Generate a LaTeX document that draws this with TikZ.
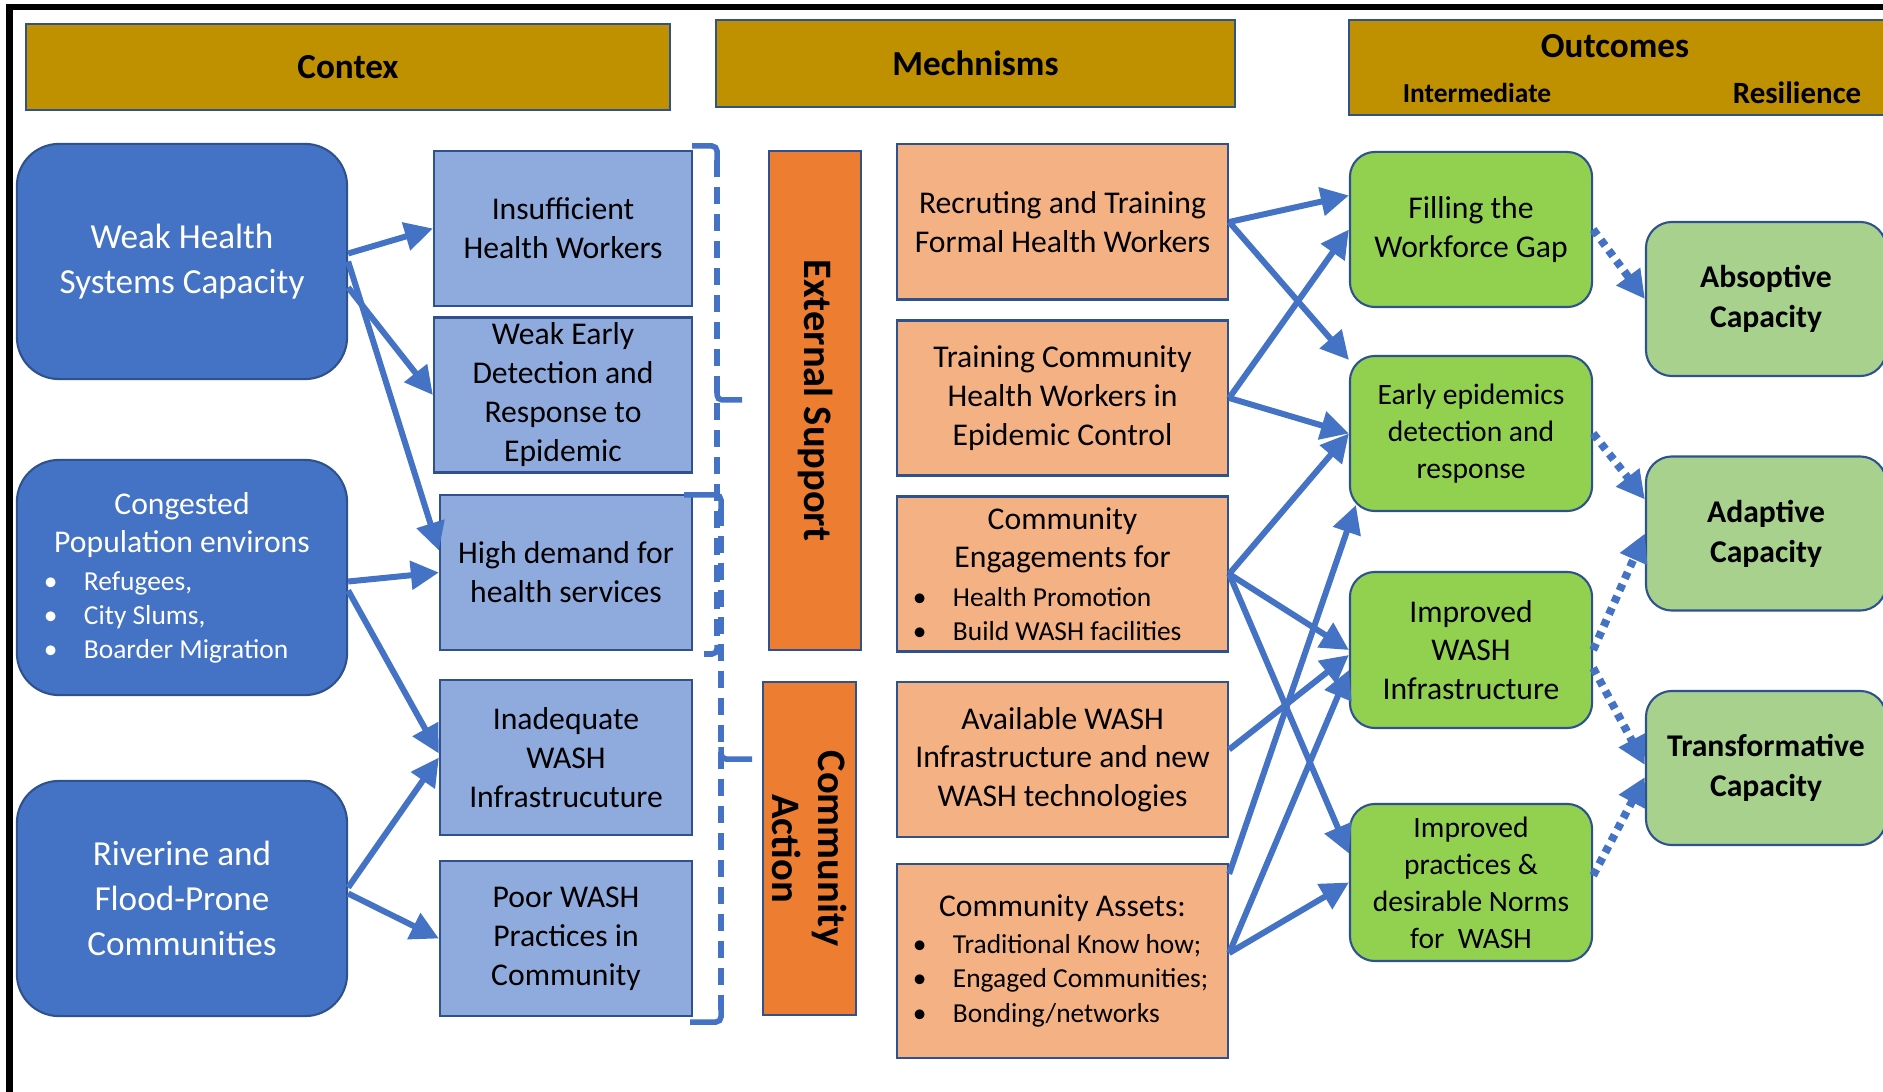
\documentclass[tikz,border=0pt]{standalone}
\usepackage{fontspec}
\setmainfont{Carlito}
\usepackage{tikz}
\usetikzlibrary{arrows.meta}
\usepackage{xcolor}

\definecolor{hdrgold}{HTML}{BF9000}
\definecolor{ctxblue}{HTML}{4472C4}
\definecolor{probblue}{HTML}{8FAADC}
\definecolor{actorange}{HTML}{ED7D31}
\definecolor{mechpeach}{HTML}{F4B183}
\definecolor{midgreen}{HTML}{92D050}
\definecolor{resgreen}{HTML}{A9D18E}
\definecolor{edgeblue}{HTML}{2F528F}

% one bullet item, left aligned inside a box of width #1
\newcommand{\bulline}[2]{\makebox[#1][l]{\fontsize{7.8}{9.6}\selectfont\makebox[0.4cm][l]{\textbullet}#2}}

\begin{document}
\begin{tikzpicture}[x=0.01cm, y=-0.01cm,
      box/.style={draw=edgeblue, line width=0.6pt, align=center, inner sep=1pt},
      hdr/.style={box, fill=hdrgold, font=\bfseries\fontsize{10}{12}\selectfont},
      hdrtxt/.style={inner sep=0pt},
      ctx/.style={box, fill=ctxblue, text=white, rounded corners=0.42cm,
          minimum width=3.3cm, minimum height=2.35cm, font=\fontsize{10}{13}\selectfont},
      prob/.style={box, fill=probblue, minimum width=2.52cm, minimum height=1.55cm,
          font=\fontsize{9}{11.1}\selectfont},
      act/.style={box, fill=actorange, rotate=-90, font=\bfseries\fontsize{11.5}{13}\selectfont},
      mech/.style={box, fill=mechpeach, minimum width=3.31cm, minimum height=1.55cm,
          font=\fontsize{9}{11}\selectfont},
      mid/.style={box, fill=midgreen, rounded corners=0.25cm, minimum width=2.42cm,
          minimum height=1.55cm, font=\fontsize{9}{11}\selectfont},
      res/.style={box, fill=resgreen, rounded corners=0.26cm, minimum width=2.4cm,
          minimum height=1.54cm, font=\bfseries\fontsize{9}{11.3}\selectfont},
      arr/.style={-{Triangle[length=0.28cm, width=0.28cm]}, line width=0.06cm, ctxblue},
      dotarr/.style={arr, line width=0.08cm, dash pattern=on 0.07cm off 0.06cm},
      grptick/.style={draw=ctxblue, line width=0.055cm, rounded corners=0.05cm},
      grp/.style={grptick, dash pattern=on 0.17cm off 0.1cm},
    ]
    \useasboundingbox (0,0) rectangle (1883,1092);

    % Frame
    \draw[line width=0.06cm] (9.5,1092) -- (9.5,7) -- (1883,7);

    % Column headers
    \node[hdr, minimum width=6.44cm, minimum height=0.86cm] (ctxhdr) at (348,67) {Contex};
    \node[hdr, minimum width=5.19cm, minimum height=0.87cm] (mechhdr) at (975.5,63.5) {Mechnisms};
    \node[hdr, minimum width=5.45cm, minimum height=0.95cm] (outhdr) at (1621.5,67.5) {};
    \node[hdrtxt, font=\bfseries\fontsize{10}{12}\selectfont] (outtxt) at (1615,46) {Outcomes};
    \node[hdrtxt, font=\bfseries\fontsize{7.8}{9}\selectfont] (midtxt) at (1477,93) {Intermediate};
    \node[hdrtxt, font=\bfseries\fontsize{8.8}{10}\selectfont] (restxt) at (1797,93) {Resilience};

    % Context
    \node[ctx] (weak) at (182,261.5) {Weak Health\\Systems Capacity};
    \node[ctx, font=\fontsize{9}{10.9}\selectfont] (cong) at (182,577.5) {Congested\\Population environs\\
        \bulline{2.76cm}{Refugees,}\\[-1.3pt]\bulline{2.76cm}{City Slums,}\\[-1.3pt]\bulline{2.76cm}{Boarder Migration}};
    \node[ctx, font=\fontsize{10}{12.7}\selectfont] (river) at (182,898.5) {Riverine and\\Flood-Prone\\Communities};

    % Problems
    \node[prob, minimum width=2.58cm] (insuf) at (563,228.5) {Insufficient\\Health Workers};
    \node[prob, minimum width=2.58cm] (weakdet) at (563,395) {Weak Early\\Detection and\\Response to\\Epidemic};
    \node[prob] (demand) at (566,572.5) {High demand for\\health services};
    \node[prob] (inadeq) at (566,757.5) {Inadequate\\WASH\\Infrastrucuture};
    \node[prob] (poor) at (566,938.5) {Poor WASH\\Practices in\\Community};

    % Groupings (dashed brackets)
    \draw[grp] (717,160) -- (717,645);
    \draw[grptick] (692,146) -- (717,146) -- (717,160);
    \draw[grptick] (717,388) -- (717,400) -- (742,400);
    \draw[grptick] (717,645) -- (717,654) -- (704,654);
    \draw[grp] (721,509) -- (721,1010);
    \draw[grptick] (684,495) -- (721,495) -- (721,509);
    \draw[grptick] (721,747) -- (721,759) -- (752,759);
    \draw[grptick] (721,1010) -- (721,1022) -- (690,1022);

    % Actors
    \node[act, minimum width=4.99cm, minimum height=0.92cm] (ext) at (815,400.5) {External Support};
    \node[act, minimum width=3.33cm, minimum height=0.93cm] (commact) at (809.5,848.5) {Community\\Action};

    % Mechanisms
    \node[mech] (recr) at (1062.5,222) {Recruting and Training\\Formal Health Workers};
    \node[mech] (train) at (1062.5,398) {Training Community\\Health Workers in\\Epidemic Control};
    \node[mech] (engage) at (1062.5,574) {Community\\Engagements for\\
        \bulline{2.99cm}{Health Promotion}\\[-1.3pt]\bulline{2.99cm}{Build WASH facilities}};
    \node[mech] (avail) at (1062.5,759.5) {Available WASH\\Infrastructure and new\\WASH technologies};
    \node[mech, minimum height=1.94cm] (assets) at (1062.5,961) {Community Assets:\\[-0.7pt]
        \bulline{2.99cm}{Traditional Know how;}\\[-1.2pt]\bulline{2.99cm}{Engaged Communities;}\\[-1.2pt]
        \bulline{2.99cm}{Bonding/networks}};

    % Intermediate outcomes
    \node[mid] (fill) at (1471,229.5) {Filling the\\Workforce Gap};
    \node[mid, font=\fontsize{8.4}{10.6}\selectfont] (early) at (1471,433.5) {Early epidemics\\detection and\\response};
    \node[mid, minimum height=1.56cm] (infra) at (1471,650) {Improved\\WASH\\Infrastructure};
    \node[mid, minimum height=1.57cm, font=\fontsize{8.4}{10.5}\selectfont] (pract) at (1471,882.5)
        {Improved\\practices \&\\desirable Norms\\for~~WASH};

    % Resilience
    \foreach \n/\y/\t in {abs/299/Absoptive, adapt/533.5/Adaptive, transf/768/Transformative} {
        \node[res] (\n) at (1766,\y) {\t\\Capacity};
      }

    % Context -> problems
    \draw[arr] ([yshift=0.08cm]weak.east) -- (insuf.west);
    \draw[arr] ([yshift=-0.26cm]weak.east) -- (weakdet.west);
    \draw[arr] (weak.east) -- ([yshift=0.22cm]demand.west);
    \draw[arr] ([yshift=-0.04cm]cong.east) -- (demand.west);
    \draw[arr] ([yshift=-0.13cm]cong.east) -- ([yshift=0.04cm]inadeq.west);
    \draw[arr] ([yshift=0.11cm]river.east) -- (inadeq.west);
    \draw[arr] ([yshift=0.05cm]river.east) -- (poor.west);

    % Mechanisms -> intermediate outcomes
    \draw[arr] (recr.east) -- ([yshift=0.34cm]fill.west);
    \draw[arr] (recr.east) -- ([yshift=0.735cm]early.west);
    \draw[arr] (train.east) -- (fill.west);
    \draw[arr] (train.east) -- (early.west);
    \draw[arr] (engage.east) -- (early.west);
    \draw[arr] (engage.east) -- (infra.west);
    \draw[arr] (engage.east) -- ([yshift=0.29cm]pract.west);
    \draw[arr] ([yshift=0.1cm]avail.east) -- ([yshift=-0.05cm]infra.west);
    \draw[arr] ([yshift=-0.11cm]assets.north east) -- ([xshift=0.07cm,yshift=0.07cm]early.south west);
    \draw[arr] ([yshift=0.08cm]assets.east) -- ([yshift=-0.2cm]infra.west);
    \draw[arr] ([yshift=0.08cm]assets.east) -- (pract.west);

    % Intermediate -> resilience
    \draw[dotarr] (fill.east) -- (abs.west);
    \draw[dotarr] (early.east) -- ([yshift=0.34cm]adapt.west);
    \draw[dotarr] (infra.east) -- (adapt.west);
    \draw[dotarr] ([yshift=-0.18cm]infra.east) -- ([yshift=0.03cm]transf.west);
    \draw[dotarr] ([yshift=0.07cm]pract.east) -- ([yshift=-0.09cm]transf.west);
  \end{tikzpicture}
\end{document}
